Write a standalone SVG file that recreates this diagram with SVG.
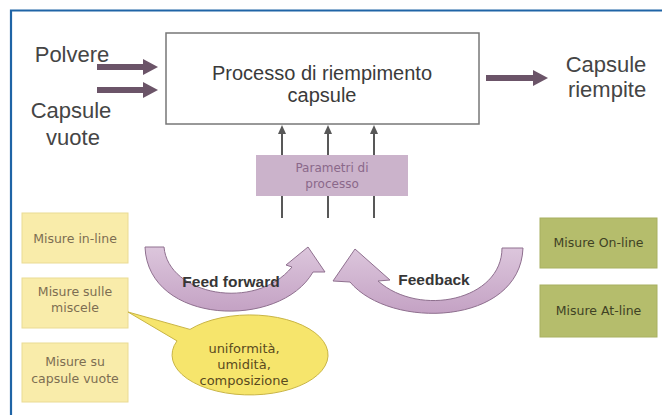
<svg xmlns="http://www.w3.org/2000/svg" width="662" height="415" viewBox="0 0 662 415">
  <defs>
    <style>
      .side { font-family: "Liberation Sans", Arial, sans-serif; font-size: 22px; fill: #454545; text-anchor: middle; }
      .main { font-family: "Liberation Sans", Arial, sans-serif; font-size: 20px; fill: #3a3a3a; text-anchor: middle; }
      .small { font-family: "DejaVu Sans", Verdana, sans-serif; font-size: 12.5px; text-anchor: middle; }
      .yel { fill: #f9ecaa; stroke: #eadb94; stroke-width: 1; }
      .yel-t { fill: #7d6e52; }
      .grn { fill: #b5bd6c; stroke: #a8b060; stroke-width: 1; }
      .grn-t { fill: #3f4224; }
      .flow { fill: #6b5468; }
      .par { stroke: #585858; stroke-width: 2; fill: none; }
      .head { fill: #585858; }
      .loop { fill: url(#loopGrad); stroke: #8f708f; stroke-width: 1; }
      .loop-t { font-family: "Liberation Sans", Arial, sans-serif; font-size: 15.5px; font-weight: bold; fill: #363636; text-anchor: middle; }
    </style>
    <linearGradient id="loopGrad" x1="0" y1="0" x2="0" y2="1">
      <stop offset="0" stop-color="#dcc6dc"/>
      <stop offset="1" stop-color="#c4a2c4"/>
    </linearGradient>
  </defs>

  <!-- page frame -->
  <path d="M11,415 L11,10.5 L662,10.5" fill="none" stroke="#1f64a6" stroke-width="2.2"/>

  <!-- process block -->
  <g id="processo">
    <rect x="166" y="33" width="313" height="91" fill="#ffffff" stroke="#777777" stroke-width="1.5"/>
    <text class="main" x="322" y="80">Processo di riempimento</text>
    <text class="main" x="322" y="102">capsule</text>
  </g>

  <g id="polvere"><text class="side" x="72" y="62">Polvere</text></g>
  <g id="capsule-vuote">
    <text class="side" x="71" y="118">Capsule</text>
    <text class="side" x="73" y="145">vuote</text>
  </g>
  <g id="capsule-riempite">
    <text class="side" x="606" y="72">Capsule</text>
    <text class="side" x="607" y="97">riempite</text>
  </g>

  <g id="parametri">
    <rect x="256" y="155" width="152" height="41" fill="#cbb3cb"/>
    <text class="small" x="332" y="172" fill="#8a688a" style="font-size:12px">Parametri di</text>
    <text class="small" x="332" y="188" fill="#8a688a" style="font-size:12px">processo</text>
  </g>

  <g id="misure-in-line">
    <rect class="yel" x="22" y="213" width="106" height="50"/>
    <text class="small yel-t" x="75" y="243">Misure in-line</text>
  </g>
  <g id="misure-miscele">
    <rect class="yel" x="22" y="278" width="106" height="50"/>
    <text class="small yel-t" x="75" y="296">Misure sulle</text>
    <text class="small yel-t" x="75" y="312">miscele</text>
  </g>
  <g id="misure-capsule">
    <rect class="yel" x="22" y="343" width="106" height="59"/>
    <text class="small yel-t" x="75" y="366">Misure su</text>
    <text class="small yel-t" x="75" y="383">capsule vuote</text>
  </g>

  <g id="misure-on-line">
    <rect class="grn" x="540" y="218" width="117" height="50"/>
    <text class="small grn-t" x="598.5" y="247">Misure On-line</text>
  </g>
  <g id="misure-at-line">
    <rect class="grn" x="540" y="285" width="117" height="52"/>
    <text class="small grn-t" x="598.5" y="315">Misure At-line</text>
  </g>

  <!-- callout for blend measurements -->
  <g id="nota-miscele">
    <path d="M190,329.4 L128,312 L177,340.9 A78,40 0 1 0 190,329.4 Z" fill="#f6e56c" stroke="#c9b545" stroke-width="1"/>
    <text class="small" x="244" y="353" fill="#5a4a1e" style="font-size:13px">uniformità,</text>
    <text class="small" x="244" y="369" fill="#5a4a1e" style="font-size:13px">umidità,</text>
    <text class="small" x="244" y="385" fill="#5a4a1e" style="font-size:13px">composizione</text>
  </g>

  <g id="connettori">
    <!-- material flows -->
    <path class="flow" d="M97,64 L143,64 L143,59 L158,67 L143,75 L143,70 L97,70 Z"/>
    <path class="flow" d="M97,87 L143,87 L143,82 L158,90 L143,98 L143,93 L97,93 Z"/>
    <path class="flow" d="M486,75 L533,75 L533,70 L548,78 L533,86 L533,81 L486,81 Z"/>
    <!-- parameter inputs -->
    <line class="par" x1="282" y1="155" x2="282" y2="131"/>
    <line class="par" x1="328" y1="155" x2="328" y2="131"/>
    <line class="par" x1="374" y1="155" x2="374" y2="131"/>
    <path class="head" d="M282,125 L286,134 L278,134 Z"/>
    <path class="head" d="M328,125 L332,134 L324,134 Z"/>
    <path class="head" d="M374,125 L378,134 L370,134 Z"/>
    <line class="par" x1="282" y1="196" x2="282" y2="218"/>
    <line class="par" x1="328" y1="196" x2="328" y2="218"/>
    <line class="par" x1="374" y1="196" x2="374" y2="218"/>
    <!-- feed forward loop -->
    <path class="loop" d="M145,247 L164,247 C168,295 255,312 292,267 L286,265 L308,247 L325,272 L313,272 C280,330 148,325 145,247 Z"/>
    <text class="loop-t" x="231" y="287">Feed forward</text>
    <!-- feedback loop -->
    <path class="loop" d="M523,248 L502,248 C502,300 420,318 378,281 L390,280 L355,249 L333,281 L350,282 C390,330 520,326 523,248 Z"/>
    <text class="loop-t" x="434" y="285">Feedback</text>
  </g>
</svg>
